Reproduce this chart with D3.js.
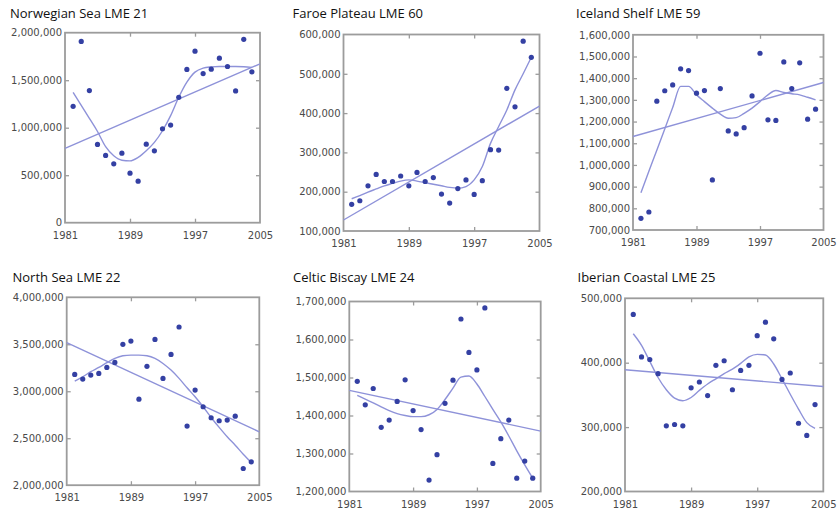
<!DOCTYPE html>
<html>
<head>
<meta charset="utf-8">
<script src="https://cdn.jsdelivr.net/npm/d3@7"></script>
<style>
  html, body { margin: 0; padding: 0; background: #fff; }
  svg { display: block; }
  .title { font-family: "Open Sans", sans-serif; font-size: 13px; fill: #111; }
  .tick text { font-family: "DejaVu Sans", sans-serif; font-size: 10px; fill: #4a4a4a; }
</style>
</head>
<body>
<svg id="chart" width="837" height="510"></svg>
<script>
// ---------- DATA ----------
const years = d3.range(1982, 2005); // 1982..2004
const xTickYears = [1981, 1989, 1997, 2005];
const trendYears = [1981, 2005];

const titles = ["Norwegian Sea LME 21", "Faroe Plateau LME 60", "Iceland Shelf LME 59",
                "North Sea LME 22", "Celtic Biscay LME 24", "Iberian Coastal LME 25"];

// Norwegian Sea
const norwegianValues = [1225000, 1908000, 1391000, 824000, 708000, 620000, 732000, 521000, 437000, 827000, 757000, 989000, 1028000, 1320000, 1613000, 1806000, 1570000, 1616000, 1732000, 1644000, 1387000, 1930000, 1588000];
const norwegianSmooth = [1373000, 1236000, 1099000, 960000, 800000, 705000, 658000, 651000, 687000, 757000, 845000, 968000, 1127000, 1320000, 1479000, 1585000, 1627000, 1640000, 1645000, 1645000, 1645000, 1642000, 1635000];
const norwegianTrend = [782000, 1672000];
const norwegianTicks = [0, 500000, 1000000, 1500000, 2000000];

// Faroe Plateau
const faroeValues = [168000, 177000, 215000, 244000, 226000, 226000, 240000, 215000, 249000, 226000, 236000, 194000, 171000, 208000, 230000, 193000, 228000, 307000, 306000, 463000, 416000, 583000, 542000];
const faroeSmooth = [182000, 190000, 199000, 207000, 215000, 221000, 227000, 230000, 227000, 223000, 219000, 215000, 211000, 209000, 213000, 230000, 264000, 323000, 366000, 408000, 459000, 500000, 542000];
const faroeTrend = [128000, 418000];
const faroeTicks = [100000, 200000, 300000, 400000, 500000, 600000];

// Iceland Shelf
const icelandValues = [754000, 783000, 1294000, 1342000, 1369000, 1443000, 1435000, 1331000, 1343000, 931000, 1352000, 1157000, 1143000, 1172000, 1318000, 1515000, 1208000, 1205000, 1475000, 1352000, 1471000, 1211000, 1257000];
const icelandSmooth = [872000, 971000, 1068000, 1166000, 1265000, 1362000, 1362000, 1323000, 1292000, 1262000, 1234000, 1215000, 1218000, 1238000, 1262000, 1292000, 1323000, 1343000, 1334000, 1328000, 1323000, 1312000, 1300000];
const icelandTrend = [1131000, 1380000];
const icelandTicks = [700000, 800000, 900000, 1000000, 1100000, 1200000, 1300000, 1400000, 1500000, 1600000];

// North Sea
const northSeaValues = [3179000, 3130000, 3172000, 3190000, 3254000, 3307000, 3499000, 3534000, 2916000, 3265000, 3552000, 3137000, 3392000, 3684000, 2629000, 3012000, 2835000, 2718000, 2686000, 2693000, 2735000, 2178000, 2249000];
const northSeaSmooth = [3108000, 3154000, 3208000, 3254000, 3304000, 3350000, 3378000, 3385000, 3385000, 3378000, 3350000, 3296000, 3225000, 3137000, 3037000, 2941000, 2835000, 2721000, 2615000, 2515000, 2426000, 2330000, 2242000];
const northSeaTrend = [3517000, 2568000];
const northSeaTicks = [2000000, 2500000, 3000000, 3500000, 4000000];

// Celtic Biscay
const celticValues = [1490000, 1428000, 1471000, 1369000, 1388000, 1437000, 1494000, 1413000, 1363000, 1230000, 1297000, 1432000, 1493000, 1654000, 1566000, 1520000, 1683000, 1274000, 1339000, 1388000, 1235000, 1280000, 1235000];
const celticSmooth = [1453000, 1443000, 1433000, 1423000, 1413000, 1405000, 1400000, 1397000, 1397000, 1402000, 1416000, 1442000, 1472000, 1501000, 1504000, 1483000, 1450000, 1416000, 1383000, 1346000, 1307000, 1270000, 1235000];
const celticTrend = [1466000, 1359000];
const celticTicks = [1200000, 1300000, 1400000, 1500000, 1600000, 1700000];

// Iberian Coastal
const iberianValues = [475000, 409000, 405000, 383000, 302000, 304000, 302000, 361000, 370000, 349000, 396000, 403000, 358000, 388000, 396000, 442000, 463000, 437000, 374000, 384000, 306000, 287000, 335000];
const iberianSmooth = [445000, 427000, 402000, 377000, 358000, 345000, 341000, 346000, 357000, 367000, 375000, 383000, 390000, 399000, 409000, 413000, 412000, 398000, 375000, 351000, 328000, 307000, 298000];
const iberianTrend = [389000, 363000];
const iberianTicks = [200000, 300000, 400000, 500000];

// ---------- LAYOUT ----------
const panels = [
  { title: titles[0], values: norwegianValues, smooth: norwegianSmooth, trend: norwegianTrend, ticks: norwegianTicks,
    box: [65, 32.7, 260, 222.7], tx: 10, ty: 18 },
  { title: titles[1], values: faroeValues, smooth: faroeSmooth, trend: faroeTrend, ticks: faroeTicks,
    box: [343.5, 34.5, 539.5, 231], tx: 292.5, ty: 18 },
  { title: titles[2], values: icelandValues, smooth: icelandSmooth, trend: icelandTrend, ticks: icelandTicks,
    box: [633, 34.8, 823.5, 230], tx: 576, ty: 18 },
  { title: titles[3], values: northSeaValues, smooth: northSeaSmooth, trend: northSeaTrend, ticks: northSeaTicks,
    box: [66.7, 297.3, 259.3, 485.2], tx: 12.5, ty: 281.5 },
  { title: titles[4], values: celticValues, smooth: celticSmooth, trend: celticTrend, ticks: celticTicks,
    box: [349.3, 301.5, 540.7, 491.5], tx: 293, ty: 281.5 },
  { title: titles[5], values: iberianValues, smooth: iberianSmooth, trend: iberianTrend, ticks: iberianTicks,
    box: [625, 298.3, 823.3, 491.5], tx: 577.5, ty: 281.5 }
];

const boxColor = "#9c9c9c";
const lineColor = "#8e92d9";
const dotColor = "#3440a3";

const svg = d3.select("#chart");

panels.forEach((p, i) => {
  const [x0, y0, x1, y1] = p.box;
  const x = d3.scaleLinear().domain([1981, 2005]).range([x0, x1]);
  const y = d3.scaleLinear().domain(d3.extent(p.ticks)).range([y1, y0]);
  const g = svg.append("g");

  g.append("text").attr("class", "title").attr("x", p.tx).attr("y", p.ty).text(p.title);

  // axes with inward ticks
  const left = g.append("g").attr("transform", `translate(${x0},0)`)
    .call(d3.axisLeft(y).tickValues(p.ticks).tickSize(-4).tickPadding(3).tickFormat(d3.format(",")));
  const bottom = g.append("g").attr("transform", `translate(0,${y1})`)
    .call(d3.axisBottom(x).tickValues(xTickYears).tickSize(-4).tickPadding(9).tickFormat(d3.format("d")));
  const top = g.append("g").attr("transform", `translate(0,${y0})`)
    .call(d3.axisTop(x).tickValues(xTickYears.slice(1, 3)).tickSize(-4).tickFormat(""));
  const right = g.append("g").attr("transform", `translate(${x1},0)`)
    .call(d3.axisRight(y).tickValues(p.ticks.slice(1, -1)).tickSize(-4).tickFormat(""));
  bottom.selectAll(".tick").filter(d => d === 1981 || d === 2005).select("line").remove();
  left.selectAll(".tick").filter(d => d === p.ticks[0] || d === p.ticks[p.ticks.length - 1]).select("line").remove();
  [left, bottom, top, right].forEach(a => {
    a.select(".domain").remove();
    a.selectAll(".tick line").attr("stroke", boxColor).attr("stroke-width", 1.3);
    a.attr("font-size", null).attr("font-family", null);
  });

  g.append("rect").attr("x", x0).attr("y", y0).attr("width", x1 - x0).attr("height", y1 - y0)
    .attr("fill", "none").attr("stroke", boxColor).attr("stroke-width", 1.8);

  // trend line
  g.append("path")
    .datum(trendYears.map((yr, k) => [yr, p.trend[k]]))
    .attr("fill", "none").attr("stroke", lineColor).attr("stroke-width", 1.4)
    .attr("d", d3.line().x(d => x(d[0])).y(d => y(d[1])));

  // smooth line
  g.append("path")
    .datum(years.map((yr, k) => [yr, p.smooth[k]]))
    .attr("fill", "none").attr("stroke", lineColor).attr("stroke-width", 1.4)
    .attr("d", d3.line().curve(d3.curveMonotoneX).x(d => x(d[0])).y(d => y(d[1])));

  // points
  g.selectAll("circle.pt").data(years.map((yr, k) => [yr, p.values[k]]))
    .join("circle").attr("class", "pt")
    .attr("cx", d => x(d[0])).attr("cy", d => y(d[1])).attr("r", 2.6)
    .attr("fill", dotColor);
});
</script>
</body>
</html>
